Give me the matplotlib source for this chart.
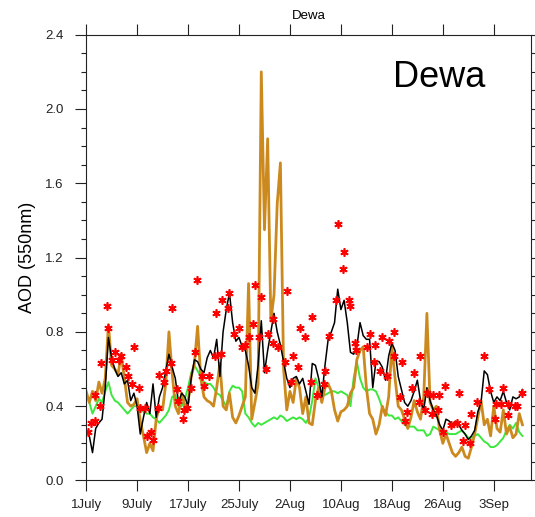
import numpy as np
import matplotlib.pyplot as plt
from matplotlib.ticker import MultipleLocator, FormatStrFormatter

plt.rcParams['font.family'] = ['Liberation Sans', 'DejaVu Sans']

# x axis: days since 1 July, labelled every 8 days
tick_days = [0, 8, 16, 24, 32, 40, 48, 56, 64]
tick_labels = ['1July', '9July', '17July', '25July', '2Aug', '10Aug', '18Aug', '26Aug', '3Sep']

# model series, one value every 12 hours from 1 July 00h
black_aod = [
    0.27, 0.24, 0.15, 0.28, 0.31, 0.33, 0.50, 0.77, 0.66, 0.60,
    0.56, 0.58, 0.52, 0.54, 0.43, 0.47, 0.40, 0.25, 0.34, 0.42,
    0.36, 0.52, 0.34, 0.45, 0.50, 0.59, 0.68, 0.61, 0.55, 0.42,
    0.47, 0.45, 0.40, 0.55, 0.65, 0.64, 0.60, 0.58, 0.66, 0.70,
    0.66, 0.76, 0.56, 0.80, 0.92, 1.01, 0.85, 0.75, 0.77, 0.72,
    0.70, 0.62, 0.50, 0.47, 0.62, 0.86, 0.58, 0.70, 0.80, 0.90,
    0.80, 0.73, 0.64, 0.55, 0.50, 0.55, 0.56, 0.52, 0.55, 0.48,
    0.41, 0.63, 0.62, 0.55, 0.45, 0.62, 0.76, 0.80, 0.85, 1.03,
    0.92, 0.97, 0.85, 0.69, 0.68, 0.72, 0.85, 0.78, 0.76, 0.76,
    0.50, 0.64, 0.64, 0.61, 0.54, 0.67, 0.74, 0.70, 0.56, 0.49,
    0.42, 0.40, 0.43, 0.48, 0.54, 0.43, 0.38, 0.50, 0.43, 0.38,
    0.35, 0.30, 0.27, 0.33, 0.32, 0.30, 0.32, 0.30, 0.27, 0.25,
    0.22, 0.24, 0.27, 0.37, 0.42, 0.59, 0.57, 0.48, 0.42, 0.45,
    0.43, 0.48, 0.42, 0.38, 0.45, 0.44, 0.45, 0.49,
]

orange_aod = [
    0.48, 0.42, 0.48, 0.43, 0.53, 0.47, 0.55, 0.84, 0.62, 0.60,
    0.57, 0.68, 0.55, 0.42, 0.40, 0.41, 0.44, 0.32, 0.24, 0.15,
    0.20, 0.16, 0.33, 0.40, 0.38, 0.52, 0.80, 0.58, 0.40, 0.36,
    0.47, 0.40, 0.42, 0.56, 0.63, 0.83, 0.55, 0.45, 0.43, 0.42,
    0.40, 0.50, 0.63, 0.40, 0.38, 0.47, 0.34, 0.31, 0.35, 0.40,
    0.45, 1.06, 0.33, 0.42, 0.52, 2.20, 1.35, 1.84, 0.86, 1.00,
    1.49, 1.71, 0.60, 0.38, 0.48, 0.42, 0.55, 0.50, 0.36, 0.45,
    0.31, 0.30, 0.43, 0.50, 0.42, 0.50, 0.52, 0.48, 0.38, 0.32,
    0.37, 0.38, 0.40, 0.47, 0.50, 0.65, 0.70, 0.72, 0.50, 0.36,
    0.33, 0.25, 0.30, 0.40, 0.35, 0.45, 0.72, 0.55, 0.40, 0.38,
    0.33, 0.28, 0.34, 0.43, 0.37, 0.33, 0.45, 0.90, 0.42, 0.38,
    0.40, 0.27, 0.20, 0.25, 0.20, 0.15, 0.13, 0.15, 0.18, 0.13,
    0.12, 0.18, 0.25, 0.34, 0.43, 0.30, 0.33, 0.24, 0.40, 0.28,
    0.26, 0.38, 0.25, 0.29, 0.23, 0.25, 0.36, 0.30,
]

green_aod = [
    0.47, 0.42, 0.36, 0.40, 0.44, 0.42, 0.48, 0.53, 0.46, 0.43,
    0.42, 0.40, 0.38, 0.36, 0.38, 0.40, 0.40, 0.40, 0.37, 0.36,
    0.36, 0.34, 0.33, 0.31, 0.33, 0.35, 0.38, 0.45, 0.46, 0.40,
    0.40, 0.44, 0.50, 0.58, 0.62, 0.59, 0.56, 0.53, 0.52, 0.52,
    0.50, 0.47, 0.46, 0.43, 0.40, 0.48, 0.51, 0.50, 0.50, 0.48,
    0.36, 0.34, 0.31, 0.29, 0.31, 0.30, 0.31, 0.32, 0.33, 0.34,
    0.33, 0.35, 0.34, 0.32, 0.33, 0.34, 0.33, 0.34, 0.33, 0.31,
    0.34, 0.43, 0.55, 0.50, 0.47, 0.46, 0.47, 0.48, 0.48, 0.47,
    0.48, 0.47, 0.46, 0.40, 0.55, 0.64, 0.55, 0.50, 0.48, 0.49,
    0.49, 0.48, 0.44, 0.39, 0.37, 0.35, 0.35, 0.33, 0.34, 0.32,
    0.30, 0.29, 0.29, 0.29, 0.27, 0.27, 0.27, 0.24, 0.25, 0.29,
    0.28, 0.27, 0.26, 0.26, 0.25, 0.25, 0.25, 0.26, 0.27, 0.25,
    0.23, 0.23, 0.24, 0.25, 0.23, 0.21, 0.20, 0.18, 0.18, 0.19,
    0.21, 0.23, 0.27, 0.30, 0.28, 0.31, 0.26, 0.24,
]

# observations (day since 1 July, AOD)
obs_day = [
    0.3, 0.8, 1.4, 1.4, 2.25, 2.4, 3.2, 3.45, 4.1, 4.5,
    5.1, 5.5, 6.2, 6.6, 7.2, 7.5, 8.3, 8.5, 9.3, 9.6,
    10.2, 10.5, 11.3, 11.5, 12.2, 12.5, 13.3, 13.5, 14.2, 14.5,
    15.2, 15.3, 15.9, 16.5, 17.1, 17.4, 18.2, 18.5, 19.3, 20.2,
    20.4, 21.2, 21.4, 22.2, 22.5, 23.2, 24.0, 24.5, 25.0, 25.5,
    26.2, 26.5, 27.2, 27.5, 28.2, 28.5, 29.3, 29.4, 30.2, 31.3,
    31.5, 32.1, 32.4, 33.3, 33.5, 34.4, 35.3, 35.5, 36.3, 37.3,
    37.5, 38.2, 39.3, 39.5, 40.3, 40.5, 41.2, 41.5, 42.2, 42.4,
    44.1, 44.5, 45.2, 45.4, 46.2, 46.4, 47.2, 47.5, 48.3, 48.4,
    49.2, 49.6, 50.1, 50.4, 51.1, 51.4, 52.2, 52.4, 53.2, 53.5,
    54.3, 54.4, 55.2, 55.4, 56.1, 56.4, 57.3, 58.2, 58.5, 59.2,
    59.5, 60.2, 60.4, 61.3, 62.4, 63.3, 64.2, 64.4, 65.2, 65.5,
    66.2, 66.3, 67.4, 67.6, 68.4,
]
obs_aod = [
    0.26, 0.31, 0.32, 0.46, 0.40, 0.63, 0.94, 0.82, 0.65, 0.69,
    0.65, 0.67, 0.61, 0.56, 0.52, 0.72, 0.50, 0.39, 0.39, 0.24,
    0.26, 0.22, 0.39, 0.57, 0.53, 0.59, 0.63, 0.93, 0.49, 0.43,
    0.33, 0.38, 0.39, 0.50, 0.69, 1.08, 0.56, 0.51, 0.56, 0.67,
    0.90, 0.68, 0.97, 0.93, 1.01, 0.79, 0.82, 0.72, 0.73, 0.77,
    0.84, 1.05, 0.77, 0.99, 0.60, 0.79, 0.74, 0.87, 0.72, 0.64,
    1.02, 0.53, 0.67, 0.61, 0.82, 0.77, 0.53, 0.88, 0.46, 0.52,
    0.59, 0.78, 0.97, 1.38, 1.14, 1.23, 0.97, 0.94, 0.74, 0.70,
    0.72, 0.79, 0.64, 0.73, 0.59, 0.77, 0.56, 0.75, 0.67, 0.80,
    0.45, 0.64, 0.32, 0.37, 0.50, 0.58, 0.42, 0.67, 0.38, 0.47,
    0.36, 0.46, 0.38, 0.46, 0.26, 0.51, 0.30, 0.31, 0.47, 0.21,
    0.30, 0.20, 0.36, 0.42, 0.67, 0.49, 0.33, 0.41, 0.41, 0.50,
    0.35, 0.41, 0.40, 0.40, 0.47,
]

t = np.arange(len(black_aod)) * 0.5

fig = plt.figure(figsize=(5.35, 5.17), dpi=100)
ax = fig.add_axes([0.161, 0.0706, 0.831, 0.8623])

ax.plot(t, green_aod, color='#3ce83c', linewidth=1.4)
ax.plot(t, orange_aod, color='#cc8a1e', linewidth=2.0)
ax.plot(t, black_aod, color='black', linewidth=1.1)
ax.plot(obs_day, obs_aod, linestyle='none', marker=(6, 2, 0), markersize=6,
        markeredgewidth=1.2, color='red')

ax.set_xlim(0, 69.8)
ax.set_ylim(0, 2.4)
ax.set_xticks(tick_days)
ax.set_xticklabels(tick_labels)
ax.set_yticks(np.arange(0, 2.41, 0.4))
ax.yaxis.set_major_formatter(FormatStrFormatter('%.1f'))
ax.yaxis.set_minor_locator(MultipleLocator(0.1))

ax.tick_params(which='both', direction='out', top=True, right=True,
               labeltop=False, labelright=False, width=0.8, colors='#222222')
ax.tick_params(which='major', length=8, labelsize=9.5)
ax.tick_params(axis='y', which='major', pad=8)
ax.tick_params(axis='x', which='major', pad=5)
ax.tick_params(which='minor', length=3.5)
for s in ax.spines.values():
    s.set_linewidth(0.8)
    s.set_color('#222222')

ax.set_ylabel('AOD (550nm)', fontsize=13, labelpad=7)
ax.set_title('Dewa', fontsize=9.5, pad=11)
ax.text(0.795, 0.905, 'Dewa', transform=ax.transAxes, fontsize=26,
        ha='center', va='center')

fig.savefig('out.png', dpi=100)
